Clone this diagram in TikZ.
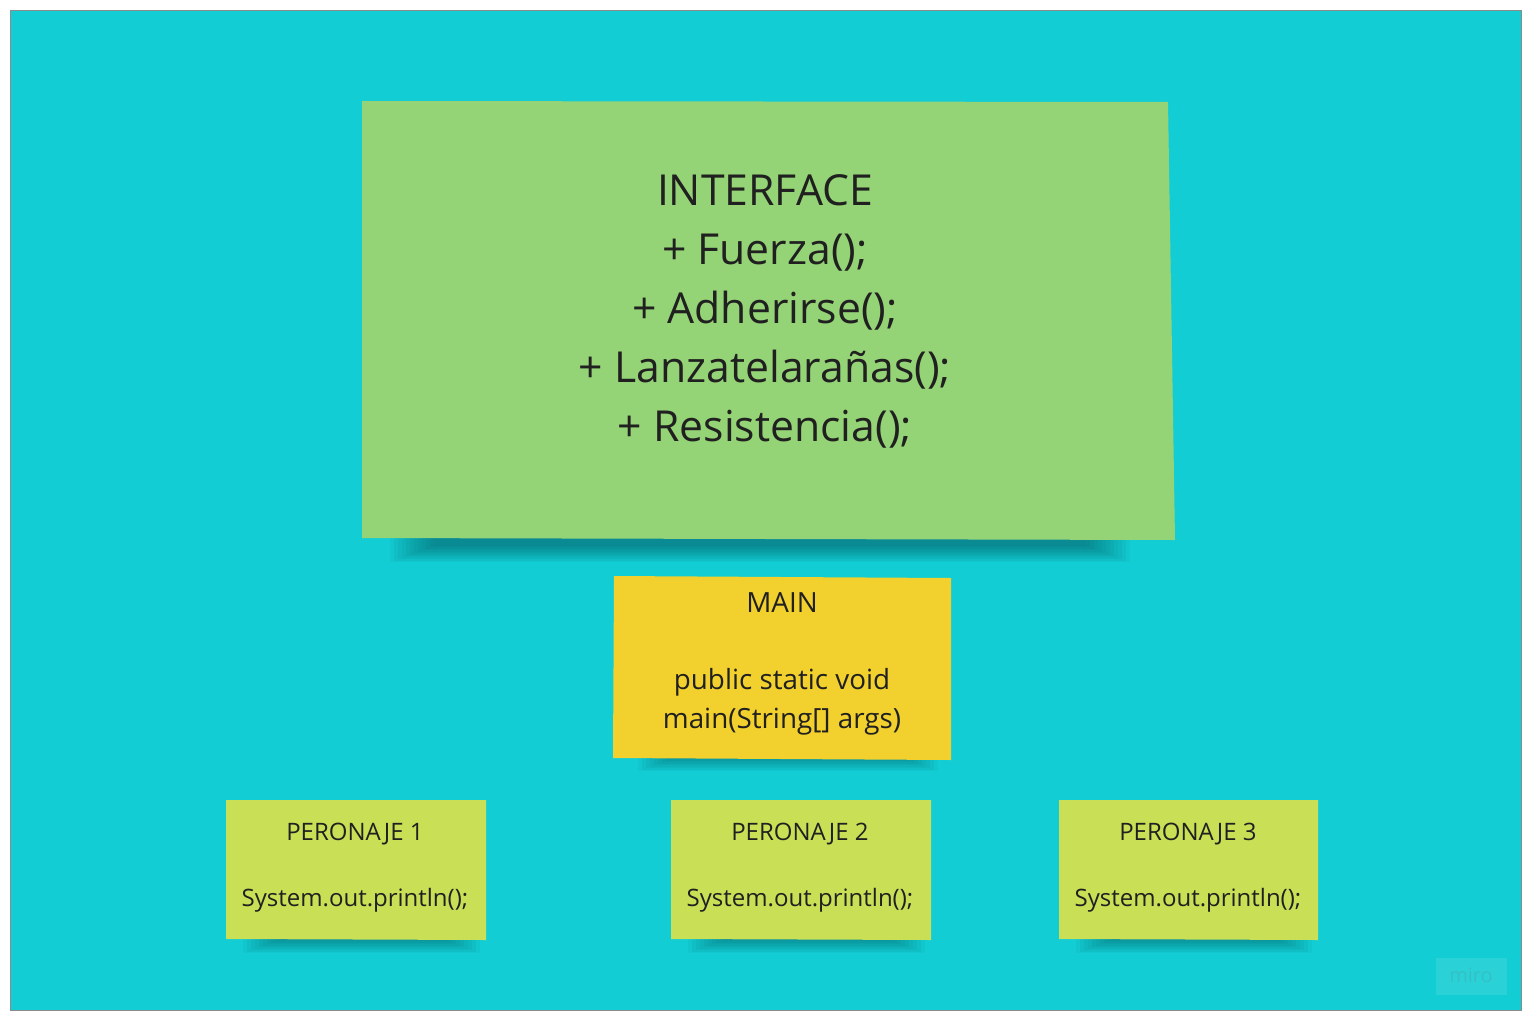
\documentclass[tikz,border=0pt]{standalone}
\usepackage{fontspec}
\setmainfont{Open Sans}
\definecolor{bgcyan}{RGB}{18,205,212}
\definecolor{notegreen}{RGB}{149,212,118}
\definecolor{noteyellow}{RGB}{242,208,46}
\definecolor{notelime}{RGB}{201,223,86}
\definecolor{shadowc}{RGB}{10,70,80}
\definecolor{txt}{RGB}{32,32,32}
\newcommand\noteshadow[4]{%
  \foreach \i in {0,...,11} {%
    \fill[shadowc, opacity=0.05] (#1+\i*4, #3) rectangle (#2-\i*4, #3+#4-\i*1.5);
  }%
}
\begin{document}
\begin{tikzpicture}[x=1pt, y=-1pt,
  note/.style={inner sep=0pt, outer sep=0pt},
  notetext/.style={align=center, text=txt, inner sep=0pt}]
\useasboundingbox (0,0) rectangle (1531,1020);
\fill[white] (0,0) rectangle (1531,1020);
\filldraw[fill=bgcyan, draw=black!45, line width=0.8pt] (10,10) rectangle (1521,1010);

% shadows
\noteshadow{390}{1130}{532}{30}
\noteshadow{638}{938}{752}{19}
\noteshadow{243}{480}{932}{21}
\noteshadow{688}{925}{932}{21}
\noteshadow{1076}{1312}{932}{21}

% notes
\fill[notegreen] (362,101) -- (1168,102) -- (1175,540) -- (362,538) -- cycle;
\node[note, minimum width=810pt, minimum height=438pt] (iface) at (768,320) {};
\node[notetext, font=\fontsize{42.7}{59}\selectfont] (ifacetxt) at (765,311)
  {INTERFACE\\+ Fuerza();\\+ Adherirse();\\+ Lanzatelarañas();\\+ Resistencia();};

\fill[noteyellow] (614,576) -- (951,578) -- (951,760) -- (613,758) -- cycle;
\node[note, minimum width=338pt, minimum height=184pt] (main) at (782,668) {};
\node[notetext, font=\fontsize{27.8}{38.5}\selectfont] (maintxt) at (782,664)
  {MAIN\\[0pt]\strut\\public static void\\main(String[] args)};

\fill[notelime] (226,800) -- (486,800) -- (486,940) -- (226,939) -- cycle;
\fill[notelime] (671,800) -- (931,800) -- (931,940) -- (671,939) -- cycle;
\fill[notelime] (1059,800) -- (1318,800) -- (1318,940) -- (1059,939) -- cycle;
\node[note, minimum width=260pt, minimum height=140pt] (p1) at (356,870) {};
\node[note, minimum width=260pt, minimum height=140pt] (p2) at (801,870) {};
\node[note, minimum width=259pt, minimum height=140pt] (p3) at (1188.5,870) {};
\node[notetext, font=\fontsize{24}{33}\selectfont] (p1txt) at (355,868)
  {PERONAJE 1\\\strut\\System.out.println();};
\node[notetext, font=\fontsize{24}{33}\selectfont] (p2txt) at (800,868)
  {PERONAJE 2\\\strut\\System.out.println();};
\node[notetext, font=\fontsize{24}{33}\selectfont] (p3txt) at (1188,868)
  {PERONAJE 3\\\strut\\System.out.println();};

% miro watermark
\fill[white, opacity=0.10] (1436,958) rectangle (1507,995);
\node[text=black!12!bgcyan!85!white, font=\fontsize{20}{20}\selectfont, inner sep=0pt] (miro) at (1471,975) {miro};
\end{tikzpicture}
\end{document}
